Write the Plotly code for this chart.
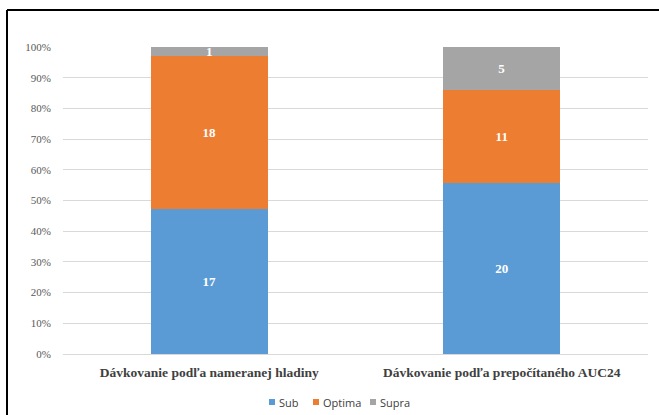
import plotly.graph_objects as go

categories = ["Dávkovanie podľa nameranej hladiny", "Dávkovanie podľa prepočítaného AUC24"]
series_names = ["Sub", "Optima", "Supra"]
sub_vals = [17, 20]
optima_vals = [18, 11]
supra_vals = [1, 5]
colors = ["#5B9BD5", "#ED7D31", "#A5A5A5"]
tick_vals = [0, 10, 20, 30, 40, 50, 60, 70, 80, 90, 100]
tick_text = [f"{v}%" for v in tick_vals]

W, H = 659, 415
L, R, T, B = 63, 11, 47, 61
pw, ph = W - L - R, H - T - B


def px_x(px):
    return (px - L) / pw


def px_y(py):
    return (H - B - py) / ph


fig = go.Figure()
for name, vals, col in zip(series_names, [sub_vals, optima_vals, supra_vals], colors):
    fig.add_trace(go.Bar(
        name=name, x=categories, y=vals, marker=dict(color=col, line=dict(width=0)),
        text=[str(v) for v in vals], textposition="inside", insidetextanchor="middle",
        constraintext="none", textangle=0,
        textfont=dict(family="Liberation Serif", size=13, color="white", weight="bold"),
        hoverinfo="skip", showlegend=False,
    ))

fig.update_layout(
    barmode="stack", barnorm="percent", bargap=0.6,
    width=W, height=H,
    margin=dict(l=L, r=R, t=T, b=B, pad=0),
    paper_bgcolor="white", plot_bgcolor="white",
    showlegend=False,
    xaxis=dict(showgrid=False, showline=False, ticks="outside", ticklen=6, tickcolor="rgba(0,0,0,0)",
               automargin=False,
               tickfont=dict(family="Liberation Serif", size=13.5, color="#404040", weight="bold")),
    yaxis=dict(range=[0, 100], tickmode="array", tickvals=tick_vals, ticktext=tick_text, showgrid=True,
               gridcolor="#D9D9D9", gridwidth=1, zeroline=True, zerolinecolor="#D9D9D9",
               zerolinewidth=1, showline=False, ticks="outside", ticklen=9, tickcolor="rgba(0,0,0,0)",
               automargin=False,
               tickfont=dict(family="Liberation Serif", size=11, color="#595959")),
)

# manual legend (squares + text)
legend_marker_px = [269, 313, 370]
legend_y_px = 402
for name, col, mx in zip(series_names, colors, legend_marker_px):
    fig.add_shape(type="rect", xref="paper", yref="paper",
                  x0=px_x(mx), x1=px_x(mx + 6), y0=px_y(legend_y_px + 3), y1=px_y(legend_y_px - 3),
                  fillcolor=col, line=dict(width=0))
    fig.add_annotation(text=name, xref="paper", yref="paper", x=px_x(mx + 8), y=px_y(legend_y_px),
                       xanchor="left", yanchor="middle", showarrow=False,
                       font=dict(family="Open Sans", size=11, color="#404040"))

# frame lines (left and top)
fig.add_shape(type="line", xref="paper", yref="paper", x0=px_x(7), x1=px_x(7), y0=px_y(10), y1=-2,
              line=dict(color="black", width=2))
fig.add_shape(type="line", xref="paper", yref="paper", x0=px_x(7), x1=2, y0=px_y(10), y1=px_y(10),
              line=dict(color="black", width=2))

fig.write_html("out.html")
